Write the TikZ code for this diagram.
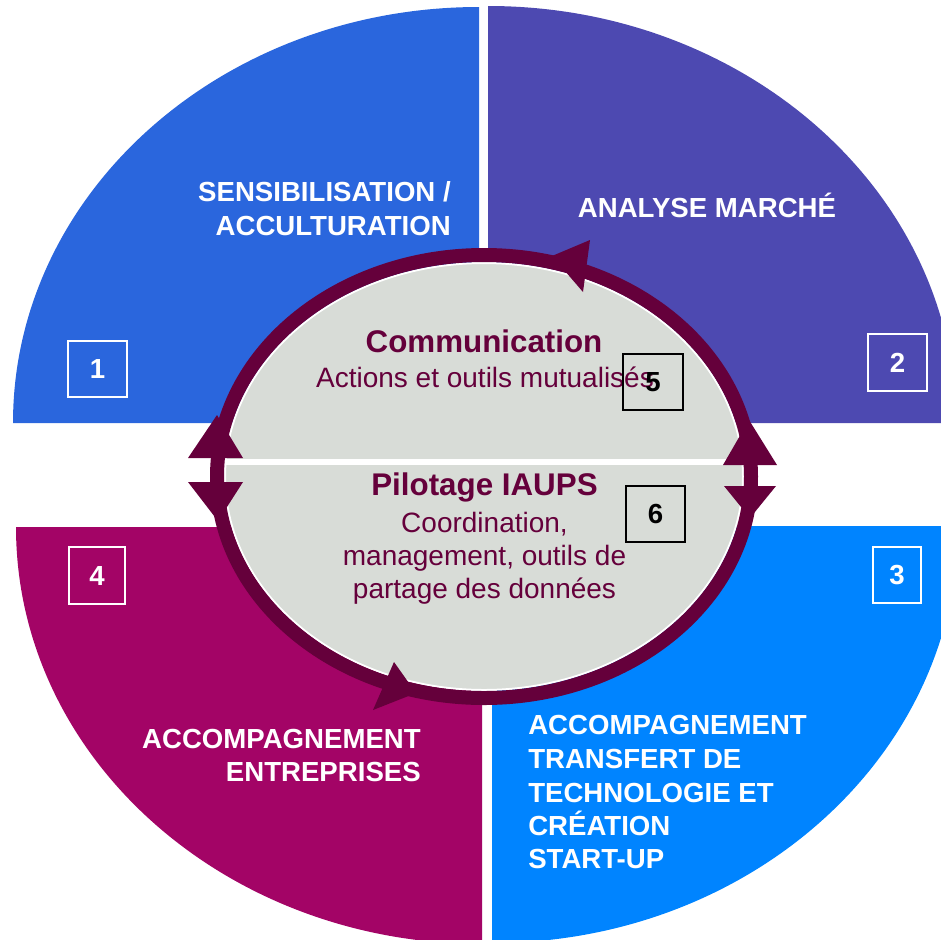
\documentclass[tikz,border=0pt]{standalone}
\usepackage{fontspec}
\setmainfont{Liberation Sans}
\definecolor{cTL}{HTML}{2A66DD}
\definecolor{cTR}{HTML}{4D49B1}
\definecolor{cBL}{HTML}{A30466}
\definecolor{cBR}{HTML}{0084FF}
\definecolor{ringc}{HTML}{65003B}
\definecolor{grayc}{HTML}{D8DCD7}
\tikzset{
  quadlbl/.style={text=white,inner sep=0pt,font=\bfseries\fontsize{20.7}{24}\selectfont},
  wbox/.style={draw=white,line width=1.5pt,inner sep=0pt,text=white,font=\bfseries\fontsize{20.7}{24}\selectfont},
  kbox/.style={draw=black,line width=1.1pt,inner sep=0pt,text=black,font=\bfseries\fontsize{20.7}{24}\selectfont},
  titlelbl/.style={text=ringc,inner sep=0pt,font=\bfseries\fontsize{23.5}{28}\selectfont},
  sublbl/.style={text=ringc,inner sep=0pt,font=\fontsize{21}{25}\selectfont},
  arrowhd/.style={fill=ringc,draw=none}
}
\begin{document}
\begin{tikzpicture}[x=0.75pt,y=-0.75pt]
\useasboundingbox (0,0) rectangle (941,939);
\begin{scope}
\clip (0,0) rectangle (941,939);
% quadrants
\fill[cTL] (479,423) -- (13,423) arc[start angle=180,end angle=270,x radius=466,y radius=416] -- cycle;
\fill[cTR] (488,423) -- (488,6) arc[start angle=270,end angle=360,x radius=468,y radius=417] -- cycle;
\fill[cBL] (482,527) -- (16,527) arc[start angle=180,end angle=90,x radius=466,y radius=417] -- cycle;
\fill[cBR] (492,526) -- (492,943) arc[start angle=90,end angle=0,x radius=466,y radius=417] -- cycle;
\end{scope}
% central grey ellipse
\coordinate (ctr) at (484,476.5);
\fill[grayc,draw=white,line width=1.5pt] (ctr) ellipse[x radius=259,y radius=213.5];
\begin{scope}
\clip (ctr) ellipse[x radius=259,y radius=213.5];
\fill[white] (200,459) rectangle (770,465);
\end{scope}
% ring
\draw[ringc,line width=10.5pt] (ctr) ellipse[x radius=267,y radius=221.5];
% arrowheads
\fill[arrowhd] (590,240) -- (583,292) -- (552,256) -- cycle;
\fill[arrowhd] (188,458) -- (243,458) -- (217,415) -- cycle;
\fill[arrowhd] (188,482) -- (243,482) -- (218,521) -- cycle;
\fill[arrowhd] (723,465) -- (777,465) -- (749,420) -- cycle;
\fill[arrowhd] (724,486) -- (776,486) -- (750,518) -- cycle;
\fill[arrowhd] (394,662) -- (373,710) -- (416,693) -- cycle;
% quadrant labels
\node[quadlbl,anchor=base east] (tl1) at (451,201) {SENSIBILISATION /};
\node[quadlbl,anchor=base east] (tl2) at (451,235) {ACCULTURATION};
\node[quadlbl,anchor=base] (tr1) at (707,217) {ANALYSE MARCHÉ};
\node[quadlbl,anchor=base east] (bl1) at (421,748) {ACCOMPAGNEMENT};
\node[quadlbl,anchor=base east] (bl2) at (421,781) {ENTREPRISES};
\node[quadlbl,anchor=base west] (br1) at (528,734) {ACCOMPAGNEMENT};
\node[quadlbl,anchor=base west] (br2) at (528,768) {TRANSFERT DE};
\node[quadlbl,anchor=base west] (br3) at (528,802) {TECHNOLOGIE ET};
\node[quadlbl,anchor=base west] (br4) at (528,835) {CRÉATION};
\node[quadlbl,anchor=base west] (br5) at (528,868) {START-UP};
% centre labels
\node[titlelbl,anchor=base] (com) at (484,352) {Communication};
\node[sublbl,anchor=base] (com2) at (485,387) {Actions et outils mutualisés};
\node[titlelbl,anchor=base] (pil) at (484.5,495) {Pilotage IAUPS};
\node[sublbl,anchor=base] (pil2) at (484.5,532) {Coordination,};
\node[sublbl,anchor=base] (pil3) at (484.5,565) {management, outils de};
\node[sublbl,anchor=base] (pil4) at (484.5,598) {partage des données};
% numbered boxes
\node[wbox,minimum width=44.25pt,minimum height=42pt] (b1) at (97.5,369) {1};
\node[wbox,minimum width=44.25pt,minimum height=42.75pt] (b2) at (897.5,362.5) {2};
\node[wbox,minimum width=36pt,minimum height=42pt] (b3) at (897,575) {3};
\node[wbox,minimum width=42pt,minimum height=42.75pt] (b4) at (97,575.5) {4};
\node[kbox,minimum width=45pt,minimum height=42pt] (b5) at (653,382) {5};
\node[kbox,minimum width=44.25pt,minimum height=42pt] (b6) at (655.5,514) {6};
\end{tikzpicture}
\end{document}
